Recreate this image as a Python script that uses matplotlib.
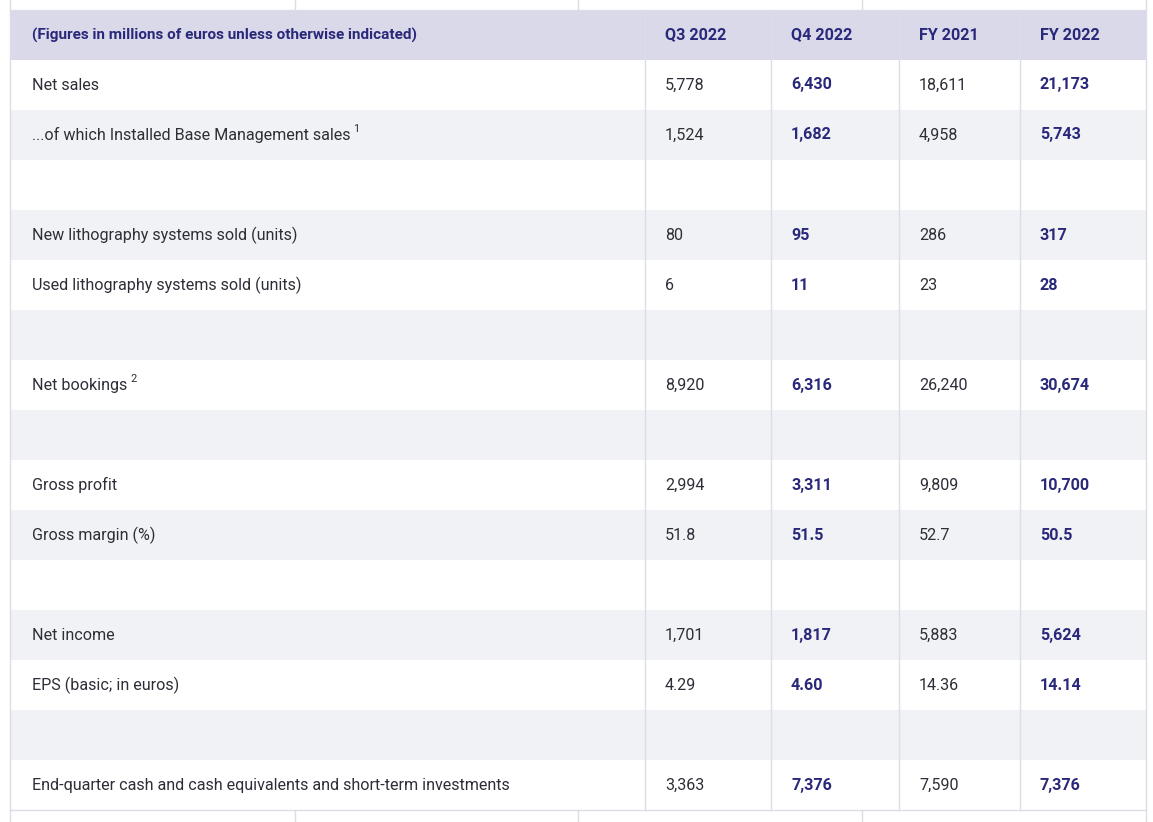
import matplotlib
matplotlib.use("Agg")
import matplotlib.pyplot as plt
from matplotlib import font_manager
from matplotlib.patches import Rectangle

header_title = "(Figures in millions of euros unless otherwise indicated)"
periods = ["Q3 2022", "Q4 2022", "FY 2021", "FY 2022"]
bold_periods = [False, True, False, True]

row_labels = ["Net sales", "...of which Installed Base Management sales", "",
              "New lithography systems sold (units)", "Used lithography systems sold (units)", "",
              "Net bookings", "", "Gross profit", "Gross margin (%)", "",
              "Net income", "EPS (basic; in euros)", "",
              "End-quarter cash and cash equivalents and short-term investments"]
footnotes = ["", "1", "", "", "", "", "2", "", "", "", "", "", "", "", ""]

q3_2022 = ["5,778", "1,524", "", "80", "6", "", "8,920", "", "2,994", "51.8", "", "1,701", "4.29", "", "3,363"]
q4_2022 = ["6,430", "1,682", "", "95", "11", "", "6,316", "", "3,311", "51.5", "", "1,817", "4.60", "", "7,376"]
fy_2021 = ["18,611", "4,958", "", "286", "23", "", "26,240", "", "9,809", "52.7", "", "5,883", "14.36", "", "7,590"]
fy_2022 = ["21,173", "5,743", "", "317", "28", "", "30,674", "", "10,700", "50.5", "", "5,624", "14.14", "", "7,376"]

names = {f.name for f in font_manager.fontManager.ttflist}
family = "Roboto" if "Roboto" in names else "Liberation Sans"
plt.rcParams["font.family"] = [family, "DejaVu Sans"]

W, H = 1153, 822
fig = plt.figure(figsize=(W / 100, H / 100), dpi=100)
ax = fig.add_axes([0, 0, 1, 1])
ax.set_xlim(0, W)
ax.set_ylim(H, 0)
ax.axis("off")

navy = "#29287a"
dark = "#2e2e38"
line_c = "#dcdde6"
head_bg = "#d9d9ea"
stripe = "#f1f2f5"

left, right = 10, 1146
top = 10
row_h = 50
col_edges = [645, 771, 899, 1020, right]
text_pad = 20
fs = 11.6

renderer = fig.canvas.get_renderer()

# header
ax.add_patch(Rectangle((left, top), right - left, row_h, facecolor=head_bg, edgecolor="none", zorder=0))
ax.text(left + 22, top + row_h / 2, header_title, color=navy, fontsize=fs - 0.6, fontweight="bold",
        va="center", ha="left")
for j, p in enumerate(periods):
    ax.text(col_edges[j] + text_pad, top + row_h / 2, p, color=navy, fontsize=fs,
            fontweight="bold", va="center", ha="left")

columns = [q3_2022, q4_2022, fy_2021, fy_2022]
for i, lab in enumerate(row_labels):
    y0 = top + row_h * (i + 1)
    yc = y0 + row_h / 2
    if i % 2 == 1:
        ax.add_patch(Rectangle((left, y0), right - left, row_h, facecolor=stripe,
                               edgecolor="none", zorder=0))
    if lab:
        t = ax.text(left + 22, yc, lab, color=dark, fontsize=fs, va="center", ha="left")
        if footnotes[i]:
            bb = t.get_window_extent(renderer)
            x_end = ax.transData.inverted().transform((bb.x1, bb.y1))[0]
            ax.text(x_end + 3, yc - 6, footnotes[i], fontsize=fs * 0.68, color=dark,
                    ha="left", va="center")
    for j, col in enumerate(columns):
        if col[i]:
            ax.text(col_edges[j] + text_pad, yc, col[i], fontsize=fs,
                    color=navy if bold_periods[j] else dark,
                    fontweight="bold" if bold_periods[j] else "normal",
                    va="center", ha="left")

bottom = top + row_h * (len(row_labels) + 1)

# grid lines
for x in col_edges[:-1]:
    ax.plot([x, x], [top, bottom], color=line_c, lw=1, zorder=1)
ax.plot([left, left], [0, H], color=line_c, lw=1, zorder=1)
ax.plot([right, right], [0, H], color=line_c, lw=1, zorder=1)
ax.plot([left, right], [top, top], color=line_c, lw=1, zorder=1)
ax.plot([left, right], [bottom, bottom], color=line_c, lw=1, zorder=1)
# neighbouring table fragments above and below
for x in [295, 578, 862]:
    ax.plot([x, x], [0, top], color=line_c, lw=1, zorder=1)
    ax.plot([x, x], [bottom, H], color=line_c, lw=1, zorder=1)

fig.savefig("out.png", dpi=100, facecolor="white")
